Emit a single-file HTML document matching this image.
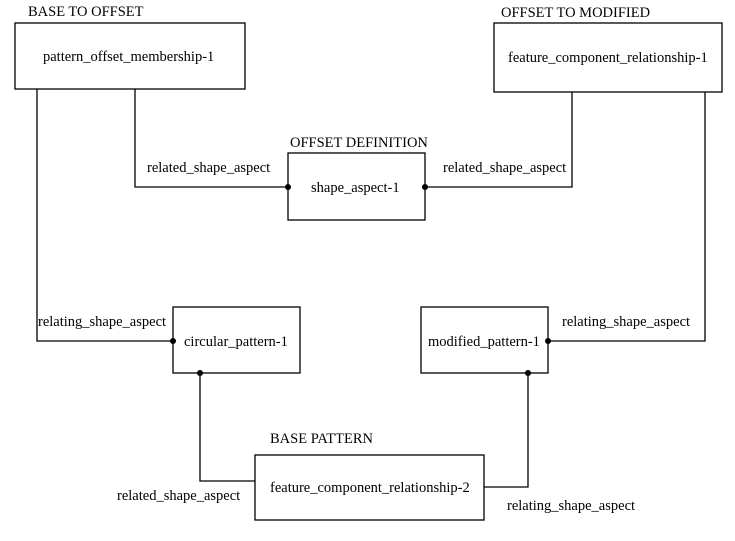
<!DOCTYPE html>
<html><head><style>
body{margin:0;background:#fff;}
svg text{font-family:"Liberation Serif",serif;font-size:14.5px;fill:#000;}
</style></head><body>
<svg width="735" height="536" xmlns="http://www.w3.org/2000/svg">
<g fill="none" stroke="#000" stroke-width="1.3">
<rect x="15" y="23" width="230" height="66"/>
<rect x="494" y="23" width="228" height="69"/>
<rect x="288" y="153" width="137" height="67"/>
<rect x="173" y="307" width="127" height="66"/>
<rect x="421" y="307" width="127" height="66"/>
<rect x="255" y="455" width="229" height="65"/>
<polyline points="37,89 37,341 173,341"/>
<polyline points="135,89 135,187 288,187"/>
<polyline points="572,92 572,187 425,187"/>
<polyline points="705,92 705,341 548,341"/>
<polyline points="200,373 200,481 255,481"/>
<polyline points="528,373 528,487 484,487"/>
</g>
<g fill="#000">
<circle cx="288" cy="187" r="3"/><circle cx="425" cy="187" r="3"/>
<circle cx="173" cy="341" r="3"/><circle cx="548" cy="341" r="3"/>
<circle cx="200" cy="373" r="3"/><circle cx="528" cy="373" r="3"/>
</g>
<text x="28" y="16">BASE TO OFFSET</text>
<text x="501" y="17">OFFSET TO MODIFIED</text>
<text x="290" y="147">OFFSET DEFINITION</text>
<text x="270" y="443">BASE PATTERN</text>
<text x="43" y="61">pattern_offset_membership-1</text>
<text x="508" y="62">feature_component_relationship-1</text>
<text x="311" y="192">shape_aspect-1</text>
<text x="184" y="346">circular_pattern-1</text>
<text x="428" y="346">modified_pattern-1</text>
<text x="270" y="492">feature_component_relationship-2</text>
<text x="147" y="172">related_shape_aspect</text>
<text x="443" y="172">related_shape_aspect</text>
<text x="38" y="326">relating_shape_aspect</text>
<text x="562" y="326">relating_shape_aspect</text>
<text x="117" y="500">related_shape_aspect</text>
<text x="507" y="510">relating_shape_aspect</text>
</svg>
</body></html>
